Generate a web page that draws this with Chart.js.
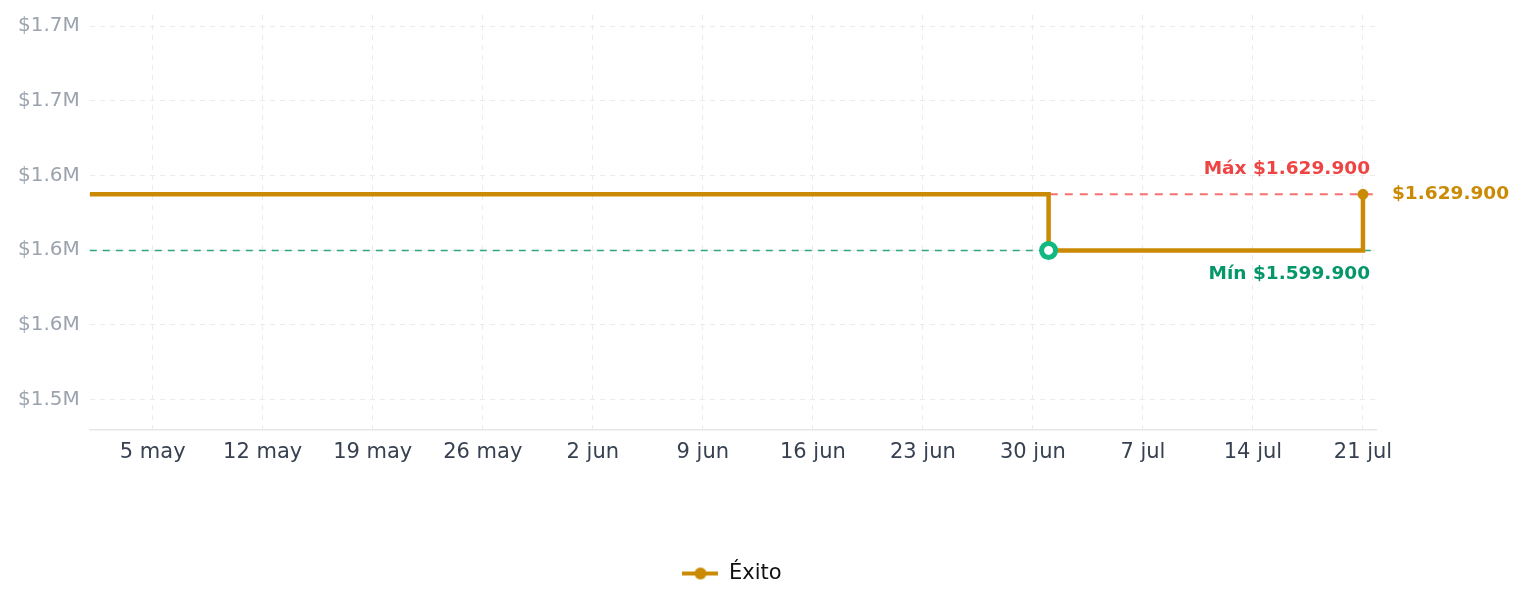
<!DOCTYPE html>
<html lang="es">
<head>
<meta charset="utf-8">
<title>Precio Éxito</title>
<script src="https://cdn.jsdelivr.net/npm/chart.js@4.4.1/dist/chart.umd.min.js"></script>
<style>
  html, body { margin: 0; padding: 0; background: #ffffff; }
  #wrap { position: relative; width: 1524px; height: 607px; }
</style>
</head>
<body>
<div id="wrap"><canvas id="priceChart"></canvas></div>
<script>
// days counted from 1 may
const POINT_DAYS = [0, 61, 81];
const POINT_LABELS = ["1 may", "1 jul", "21 jul"];
const PRICES = [1629900, 1599900, 1629900];

const X_TICK_DAYS = [4, 11, 18, 25, 32, 39, 46, 53, 60, 67, 74, 81];
const X_TICK_LABELS = ["5 may", "12 may", "19 may", "26 may", "2 jun", "9 jun", "16 jun", "23 jun", "30 jun", "7 jul", "14 jul", "21 jul"];
const Y_TICKS = [1520000, 1560000, 1600000, 1640000, 1680000, 1720000];

const STORE_NAME = "Éxito";

const COLORS = {
  gold: "#ca8a04",
  red: "#ef4444",
  redLine: "#f87171",
  green: "#10b981",
  greenText: "#059669",
  grid: "#ebebeb",
  axis: "#e5e7eb",
  yText: "#9ca3af",
  xText: "#374151"
};

const FONT = "'DejaVu Sans', sans-serif";

function formatPrice(value) {
  return "$" + String(Math.round(value)).replace(/\B(?=(\d{3})+(?!\d))/g, ".");
}

function formatMillions(value) {
  return "$" + (value / 1000000).toFixed(1) + "M";
}

const maxPrice = Math.max.apply(null, PRICES);
const minPrice = Math.min.apply(null, PRICES);
const minIndex = PRICES.indexOf(minPrice);
const lastIndex = PRICES.length - 1;
const pad = 96000;

// legend icon: short line with a dot
function makeLegendIcon() {
  const c = document.createElement("canvas");
  c.width = 36;
  c.height = 14;
  const g = c.getContext("2d");
  g.strokeStyle = COLORS.gold;
  g.lineWidth = 4;
  g.beginPath();
  g.moveTo(0, 7);
  g.lineTo(36, 7);
  g.stroke();
  g.fillStyle = COLORS.gold;
  g.beginPath();
  g.arc(18, 7, 6, 0, Math.PI * 2);
  g.fill();
  return c;
}

const legendIcon = makeLegendIcon();

const refLines = {
  id: "refLines",
  afterLayout: function (chart) {
    // legend sits a bit right of the plot centre in the original
    chart.legend.left += 40;
    chart.legend.right += 40;
  },
  beforeDatasetsDraw: function (chart) {
    const ctx = chart.ctx;
    const area = chart.chartArea;
    const y = chart.scales.y;

    ctx.save();
    ctx.lineWidth = 2;
    ctx.setLineDash([8, 7]);
    ctx.strokeStyle = COLORS.redLine;
    ctx.beginPath();
    ctx.moveTo(area.left, y.getPixelForValue(maxPrice));
    ctx.lineTo(area.right, y.getPixelForValue(maxPrice));
    ctx.stroke();

    ctx.lineWidth = 1.5;
    ctx.setLineDash([7, 6]);
    ctx.strokeStyle = "rgba(16, 150, 110, 0.85)";
    ctx.beginPath();
    ctx.moveTo(area.left, y.getPixelForValue(minPrice));
    ctx.lineTo(area.right, y.getPixelForValue(minPrice));
    ctx.stroke();
    ctx.restore();
  },
  afterDatasetsDraw: function (chart) {
    const ctx = chart.ctx;
    const area = chart.chartArea;
    const y = chart.scales.y;
    const yMax = y.getPixelForValue(maxPrice);
    const yMin = y.getPixelForValue(minPrice);
    const yLast = y.getPixelForValue(PRICES[lastIndex]);

    ctx.save();
    ctx.font = "bold 18.5px " + FONT;
    ctx.textBaseline = "middle";

    ctx.textAlign = "right";
    ctx.fillStyle = COLORS.red;
    ctx.fillText("Máx " + formatPrice(maxPrice), area.right - 6, yMax - 25);

    ctx.fillStyle = COLORS.greenText;
    ctx.fillText("Mín " + formatPrice(minPrice), area.right - 6, yMin + 24);

    ctx.textAlign = "left";
    ctx.fillStyle = COLORS.gold;
    ctx.fillText(formatPrice(PRICES[lastIndex]), area.right + 16, yLast);
    ctx.restore();
  }
};

const pointRadius = PRICES.map(function (p, i) {
  if (i === minIndex) return 7;
  if (i === lastIndex) return 5;
  return 0;
});
const pointBg = PRICES.map(function (p, i) {
  return i === minIndex ? "#ffffff" : COLORS.gold;
});
const pointBorder = PRICES.map(function (p, i) {
  return i === minIndex ? COLORS.green : COLORS.gold;
});
const pointBorderWidth = PRICES.map(function (p, i) {
  return i === minIndex ? 5 : 1;
});

new Chart(document.getElementById("priceChart"), {
  type: "line",
  data: {
    datasets: [{
      label: STORE_NAME,
      data: POINT_DAYS.map(function (d, i) {
        return { x: d, y: PRICES[i], label: POINT_LABELS[i] };
      }),
      stepped: true,
      borderColor: COLORS.gold,
      backgroundColor: COLORS.gold,
      borderWidth: 4.5,
      pointRadius: pointRadius,
      pointHoverRadius: pointRadius,
      pointBackgroundColor: pointBg,
      pointBorderColor: pointBorder,
      pointBorderWidth: pointBorderWidth,
      fill: false
    }]
  },
  options: {
    responsive: true,
    maintainAspectRatio: false,
    animation: false,
    layout: {
      padding: { top: 15, right: 148, bottom: 13, left: 8 }
    },
    plugins: {
      legend: {
        position: "bottom",
        labels: {
          usePointStyle: true,
          pointStyleWidth: 36,
          padding: 10,
          color: "#111111",
          font: { family: FONT, size: 21 },
          generateLabels: function (chart) {
            const items = Chart.defaults.plugins.legend.labels.generateLabels(chart);
            items.forEach(function (item) {
              item.pointStyle = legendIcon;
            });
            return items;
          }
        }
      },
      tooltip: {
        callbacks: {
          title: function (items) {
            return items[0].raw.label;
          },
          label: function (context) {
            return STORE_NAME + ": " + formatPrice(context.parsed.y);
          }
        }
      }
    },
    scales: {
      x: {
        type: "linear",
        min: 0,
        max: 81.83,
        afterBuildTicks: function (scale) {
          scale.ticks = X_TICK_DAYS.map(function (d) { return { value: d }; });
        },
        afterFit: function (scale) {
          scale.height += 78;
        },
        ticks: {
          color: COLORS.xText,
          padding: 10,
          maxRotation: 0,
          autoSkip: false,
          font: { family: FONT, size: 21 },
          callback: function (value) {
            const i = X_TICK_DAYS.indexOf(value);
            return i >= 0 ? X_TICK_LABELS[i] : "";
          }
        },
        grid: {
          color: COLORS.grid,
          drawTicks: false
        },
        border: {
          display: true,
          color: COLORS.axis,
          width: 1.5,
          dash: [5, 5]
        }
      },
      y: {
        min: minPrice - pad,
        max: maxPrice + pad,
        afterBuildTicks: function (scale) {
          scale.ticks = Y_TICKS.map(function (v) { return { value: v }; });
        },
        afterFit: function (scale) {
          scale.paddingTop = 0;
          scale.paddingBottom = 0;
        },
        ticks: {
          color: COLORS.yText,
          padding: 10,
          font: { family: FONT, size: 20 },
          callback: function (value) {
            return formatMillions(value);
          }
        },
        grid: {
          color: COLORS.grid,
          drawTicks: false
        },
        border: {
          display: false,
          dash: [5, 5]
        }
      }
    }
  },
  plugins: [refLines]
});
</script>
</body>
</html>
